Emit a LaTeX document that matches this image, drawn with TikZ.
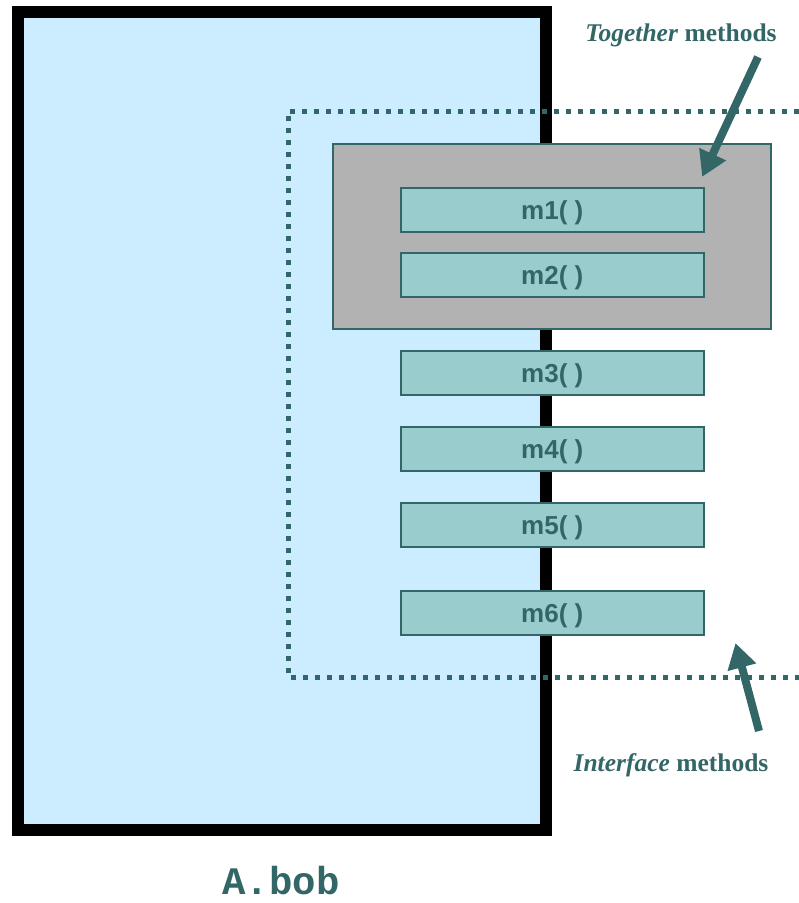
\documentclass[tikz,border=0pt]{standalone}
\usepackage{fontspec}
\setmainfont{Liberation Serif}
\setsansfont{Liberation Sans}
\setmonofont{Liberation Mono}
\usetikzlibrary{arrows.meta}
\definecolor{teal}{HTML}{336666}
\definecolor{objblue}{HTML}{CCECFF}
\definecolor{grouped}{HTML}{B2B2B2}
\definecolor{methfill}{HTML}{99CCCC}
\tikzset{
  objbox/.style={draw=black, line width=12pt, fill=objblue},
  ifaceline/.style={draw=teal, line width=5pt, dash pattern=on 5pt off 7pt},
  groupbox/.style={draw=teal, line width=1.5pt, fill=grouped, inner sep=0pt,
    minimum width=438pt, minimum height=185pt, anchor=north west},
  methbox/.style={draw=teal, line width=1.5pt, fill=methfill, inner sep=0pt,
    minimum width=303pt, minimum height=44pt, anchor=north west,
    font=\sffamily\bfseries\fontsize{26}{28}\selectfont, text=teal},
  methtext/.style={text=teal, font=\sffamily\bfseries\fontsize{26}{28}\selectfont,
    inner sep=0pt, text depth=0pt, anchor=base},
  callout/.style={draw=teal, line width=8pt,
    -{Triangle[length=25pt, width=28pt]}, shorten >=-2pt},
  label/.style={text=teal, font=\fontsize{25.5}{28}\selectfont, inner sep=0pt},
}
\newcommand{\methodbox}[3]{%
  \node[methbox] (#1) at (400,#2) {};
  \node[methtext] at ([yshift=-9.5pt]#1.center) {#3};
}
\begin{document}
\begin{tikzpicture}[x=1pt, y=-1pt]
  \useasboundingbox (0,0) rectangle (799,903);
  % the object
  \path[objbox] (18,12) rectangle (546,830);
  % interface boundary, open to the right
  \path[ifaceline] (799,111) -- (288,111) -- (288,677) -- (799,677);
  % methods that belong together
  \node[groupbox] (grp) at (332,143) {};
  \methodbox{m1}{187}{m1( )}
  \methodbox{m2}{252}{m2( )}
  \methodbox{m3}{350}{m3( )}
  \methodbox{m4}{426}{m4( )}
  \methodbox{m5}{502}{m5( )}
  \methodbox{m6}{590}{m6( )}
  % labels and their arrows
  \node[label] (tog) at (681,35) {\textbf{\textit{Together}} \textbf{methods}};
  \node[label] (ifc) at (671,765) {\textbf{\textit{Interface}} \textbf{methods}};
  \coordinate (togtail) at (758,57);
  \coordinate (togtip) at (703,175);
  \coordinate (ifctail) at (759,731);
  \coordinate (ifctip) at (736,645);
  \draw[callout] (togtail) -- (togtip);
  \draw[callout] (ifctail) -- (ifctip);
  \node[text=teal, font=\ttfamily\bfseries\fontsize{39}{42}\selectfont, inner sep=0pt] (name) at (281,881) {A.bob};
\end{tikzpicture}
\end{document}
